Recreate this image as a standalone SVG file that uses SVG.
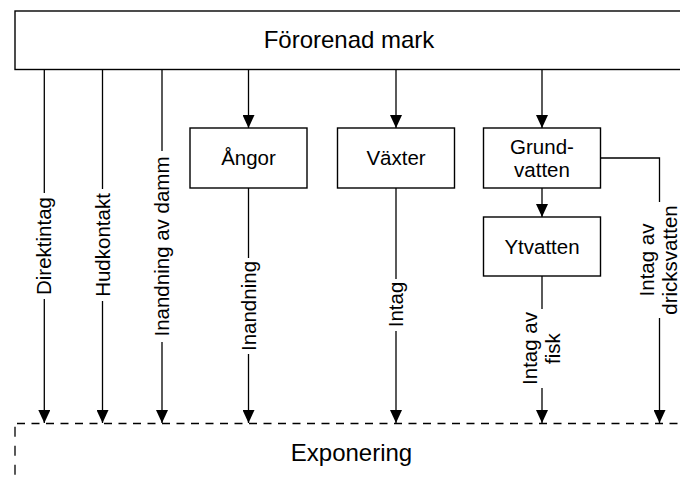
<svg xmlns="http://www.w3.org/2000/svg" width="680" height="479" viewBox="0 0 680 479">
<style>
text{font-family:"Liberation Sans",Arial,sans-serif;fill:#000}
.box{fill:#fff;stroke:#000;stroke-width:1.4}
.lbl{font-size:20.5px;text-anchor:middle}
.big{font-size:24px;text-anchor:middle}
.ln{fill:none;stroke:#000;stroke-width:1.3}
.arr{fill:none;stroke:#000;stroke-width:1.3;marker-end:url(#ah)}
.dash{fill:none;stroke:#000;stroke-width:1.3}
</style>
<defs>
<marker id="ah" markerUnits="userSpaceOnUse" markerWidth="13" markerHeight="12" refX="13" refY="6" orient="auto">
<path d="M0,0 L13,6 L0,12 z" fill="#000"/>
</marker>
</defs>
<rect width="680" height="479" fill="#fff"/>

<g id="connectors">
<!-- Direktintag -->
<path class="ln" d="M44.3,69.5 V193"/>
<path class="arr" d="M44.3,299 V423"/>
<!-- Hudkontakt -->
<path class="ln" d="M102.5,69.5 V189"/>
<path class="arr" d="M102.5,301 V423"/>
<!-- Inandning av damm -->
<path class="ln" d="M162,69.5 V151"/>
<path class="arr" d="M162,342 V423"/>
<!-- to Ångor -->
<path class="arr" d="M248.5,69.5 V128"/>
<path class="ln" d="M248.5,188 V258"/>
<path class="arr" d="M248.5,354 V423"/>
<!-- to Växter -->
<path class="arr" d="M396,69.5 V128"/>
<path class="ln" d="M396,188 V279"/>
<path class="arr" d="M396,331 V423"/>
<!-- to Grundvatten -->
<path class="arr" d="M542,69.5 V128"/>
<path class="arr" d="M542,188 V217"/>
<path class="ln" d="M542,276 V309"/>
<path class="arr" d="M542,388 V423"/>
<!-- dricksvatten -->
<path class="ln" d="M600.5,158 H659.5 V202"/>
<path class="arr" d="M659.5,318 V423"/>
</g>

<g id="edge-labels">
<text class="lbl" transform="translate(51.3,246) rotate(-90)">Direktintag</text>
<text class="lbl" transform="translate(109.5,245) rotate(-90)">Hudkontakt</text>
<text class="lbl" transform="translate(169,246.5) rotate(-90)">Inandning av damm</text>
<text class="lbl" transform="translate(255.5,306) rotate(-90)">Inandning</text>
<text class="lbl" transform="translate(403,304.5) rotate(-90)">Intag</text>
<text class="lbl" transform="translate(536.5,348.5) rotate(-90)"><tspan x="0" y="0">Intag av</tspan><tspan x="0" y="23">fisk</tspan></text>
<text class="lbl" transform="translate(654,260) rotate(-90)"><tspan x="0" y="0">Intag av</tspan><tspan x="0" y="23">dricksvatten</tspan></text>
</g>

<g id="fororenad-mark">
<rect class="box" x="15" y="11" width="680" height="58.5"/>
<text class="big" x="349" y="47.5">Förorenad mark</text>
</g>

<g id="angor">
<rect class="box" x="190" y="128" width="117" height="60"/>
<text class="lbl" x="248.5" y="164.5">Ångor</text>
</g>

<g id="vaxter">
<rect class="box" x="337.5" y="128" width="117" height="60"/>
<text class="lbl" x="396" y="164.5">Växter</text>
</g>

<g id="grundvatten">
<rect class="box" x="483.5" y="128" width="117" height="60"/>
<text class="lbl" x="542" y="153.5">Grund-</text>
<text class="lbl" x="542" y="176.5">vatten</text>
</g>

<g id="ytvatten">
<rect class="box" x="483.5" y="217" width="117" height="59"/>
<text class="lbl" x="542" y="253.5">Ytvatten</text>
</g>

<g id="exponering">
<path class="dash" d="M17,423.5 H680" stroke-dasharray="8 6.5"/>
<path class="dash" d="M15,426.7 V479" stroke-dasharray="10 9"/>
<text class="big" x="351.5" y="461">Exponering</text>
</g>
</svg>
